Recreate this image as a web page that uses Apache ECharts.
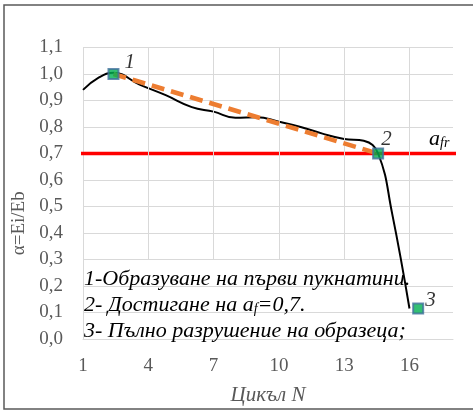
<!DOCTYPE html>
<html>
<head>
<meta charset="utf-8">
<script src="https://cdn.jsdelivr.net/npm/echarts@6/dist/echarts.min.js"></script>
<style>html,body{margin:0;padding:0;background:#fff}#c{width:473px;height:411px}</style>
</head>
<body>
<div id="c"></div>
<script>
// ---- data ----
const curveN = [1, 1.7, 2.4, 3.6, 4.8, 6.0, 7.0, 8.0, 9.0, 10.0, 11.0, 12.0, 13.0, 13.9, 14.56, 15.2, 16.0];
const curveA = [0.94, 0.985, 1.005, 0.96, 0.92, 0.875, 0.858, 0.835, 0.837, 0.82, 0.80, 0.775, 0.755, 0.748, 0.70, 0.475, 0.115];
const keyN = [2.4, 14.56, 16.4];
const keyA = [1.0, 0.70, 0.115];
const keyLabels = ['1', '2', '3'];
const trendN = [2.4, 14.56];
const trendA = [1.0, 0.70];
const thresholdA = 0.7;
const thresholdN = [0.82, 18.36];
const xTicks = [1, 4, 7, 10, 13, 16];
const xRange = [1, 18];
const yRange = [0, 1.1];
const boxTopA = 0.3;
const notes = ['1-Образуване на първи пукнатини.', '2- Достигане на ', '3- Пълно разрушение на образеца;'];

const serif = '"Liberation Serif", "DejaVu Serif", serif';
const gray = '#595959';
const gridC = '#d9d9d9';

const chart = echarts.init(document.getElementById('c'));
const vLines = xTicks.slice(1).map(t => [{coord: [t, boxTopA]}, {coord: [t, yRange[1]]}]);

chart.setOption({
  animation: false,
  grid: {left: 83, right: 20, top: 47.5, bottom: 67, containLabel: false},
  xAxis: {
    type: 'value', min: xRange[0], max: xRange[1], interval: 3,
    name: 'Цикъл N', nameLocation: 'middle', nameGap: 46,
    nameTextStyle: {fontFamily: serif, fontStyle: 'italic', fontSize: 21, color: gray},
    axisLine: {show: true, lineStyle: {color: gridC, width: 1}},
    axisTick: {show: false},
    axisLabel: {fontFamily: serif, fontSize: 19, color: gray, margin: 18, showMaxLabel: false},
    splitLine: {show: false}
  },
  yAxis: {
    type: 'value', min: yRange[0], max: yRange[1], interval: 0.1,
    name: 'α=Ei/Eb', nameLocation: 'middle', nameGap: 44, nameRotate: 90,
    nameTextStyle: {fontFamily: serif, fontSize: 19, color: gray, padding: [0, 0, 0, -60]},
    axisLine: {show: true, lineStyle: {color: gridC, width: 1}},
    axisTick: {show: false},
    axisLabel: {fontFamily: serif, fontSize: 19, color: gray, margin: 20,
      formatter: v => v.toFixed(1).replace('.', ',')},
    splitLine: {show: true, lineStyle: {color: gridC, width: 1}}
  },
  series: [
    {
      type: 'line', data: [], silent: true,
      markLine: {silent: true, symbol: 'none', label: {show: false},
        lineStyle: {color: gridC, width: 1, type: 'solid'}, data: vLines}
    },
    {
      type: 'line', clip: false, symbol: 'none', z: 3,
      data: thresholdN.map(n => [n, thresholdA]),
      lineStyle: {color: '#ff0000', width: 3.3}
    },
    {
      type: 'line', symbol: 'none', z: 4, smooth: 0.45,
      data: curveN.map((n, i) => [n, curveA[i]]),
      lineStyle: {color: '#000', width: 2}
    },
    {
      type: 'line', symbol: 'none', z: 5,
      data: trendN.map((n, i) => [n, trendA[i]]),
      lineStyle: {color: '#ED7D31', width: 4.5, type: [13, 7]}
    },
    {
      type: 'scatter', z: 6, symbol: 'rect', symbolSize: 10,
      data: keyN.map((n, i) => ({value: [n, keyA[i]], name: keyLabels[i]})),
      itemStyle: {color: '#00B050', borderColor: '#41719C', borderWidth: 2},
      label: {show: true, formatter: p => p.name, fontFamily: serif, fontStyle: 'italic',
        fontSize: 21, color: '#000', position: 'right'},
      labelLayout: function (p) {
        const off = [[0, -12], [-8, -14], [-4, -8]][p.dataIndex];
        return {dx: off[0], dy: off[1]};
      }
    }
  ],
  graphic: [
    {type: 'rect', shape: {x: 4, y: 5, width: 480, height: 404}, silent: true,
      style: {fill: 'none', stroke: '#595959', lineWidth: 1.5}, z: 100},
    {type: 'text', left: 429, top: 128, silent: true, z: 50,
      style: {rich: {a: {fontFamily: serif, fontStyle: 'italic', fontSize: 22, fill: '#000'},
                     s: {fontFamily: serif, fontStyle: 'italic', fontSize: 14, fill: '#000', padding: [8, 0, 0, 0]}},
        text: '{a|a}{s|fr}'}},
    {type: 'text', left: 84, top: 268, silent: true, z: 50,
      style: {text: notes[0], font: 'italic 22px ' + serif, fill: '#000'}},
    {type: 'text', left: 84, top: 294, silent: true, z: 50,
      style: {rich: {t: {fontFamily: serif, fontStyle: 'italic', fontSize: 22, fill: '#000'},
                     s: {fontFamily: serif, fontStyle: 'italic', fontSize: 14, fill: '#000', padding: [9, 0, 0, 0]}},
        text: '{t|' + notes[1] + 'a}{s|f}{t|=0,7.}'}},
    {type: 'text', left: 84, top: 320, silent: true, z: 50,
      style: {text: notes[2], font: 'italic 22px ' + serif, fill: '#000'}}
  ]
});
</script>
</body>
</html>
